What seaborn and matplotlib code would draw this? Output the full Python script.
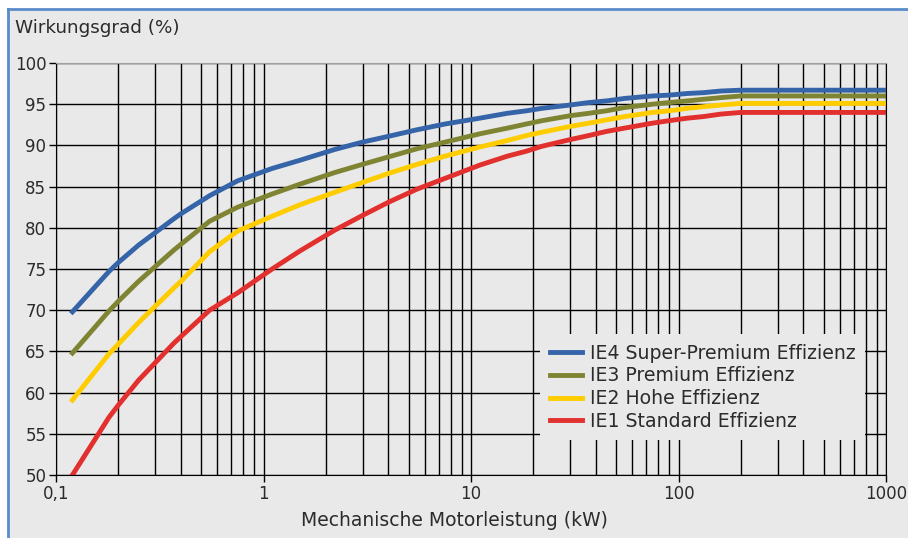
import numpy as np
import pandas as pd
import seaborn as sns
import matplotlib.pyplot as plt
from matplotlib.patches import Rectangle
from matplotlib.lines import Line2D
from matplotlib.ticker import FixedLocator, LogLocator, NullFormatter

# rated power (kW), 4-pole motors
power = [0.12, 0.18, 0.2, 0.25, 0.37, 0.4, 0.55, 0.75, 1.1, 1.5, 2.2, 3, 4, 5.5,
         7.5, 11, 15, 18.5, 22, 30, 37, 45, 55, 75, 90, 110, 132, 160, 200, 1000]

ie4 = [69.8, 74.7, 75.8, 77.9, 81.1, 81.7, 83.9, 85.7, 87.2, 88.2, 89.5, 90.4, 91.1, 91.9,
       92.6, 93.3, 93.9, 94.2, 94.5, 94.9, 95.2, 95.4, 95.7, 96.0, 96.1, 96.3, 96.4, 96.6, 96.7, 96.7]
ie3 = [64.8, 69.9, 71.1, 73.5, 77.3, 78.0, 80.8, 82.5, 84.1, 85.3, 86.7, 87.7, 88.6, 89.6,
       90.4, 91.4, 92.1, 92.6, 93.0, 93.6, 93.9, 94.2, 94.6, 95.0, 95.2, 95.4, 95.6, 95.8, 96.0, 96.0]
ie2 = [59.1, 64.7, 65.9, 68.5, 72.7, 73.5, 77.1, 79.6, 81.4, 82.8, 84.3, 85.5, 86.6, 87.7,
       88.7, 89.8, 90.6, 91.2, 91.6, 92.3, 92.7, 93.1, 93.5, 94.0, 94.2, 94.5, 94.7, 94.9, 95.1, 95.1]
ie1 = [50.0, 57.0, 58.5, 61.5, 66.0, 66.8, 70.0, 72.1, 75.0, 77.2, 79.7, 81.5, 83.1, 84.7,
       86.0, 87.6, 88.7, 89.3, 89.9, 90.7, 91.2, 91.7, 92.1, 92.7, 93.0, 93.3, 93.5, 93.8, 94.0, 94.0]

classes = ['IE4 Super-Premium Effizienz', 'IE3 Premium Effizienz',
           'IE2 Hohe Effizienz', 'IE1 Standard Effizienz']
colors = ['#3565a8', '#7f8432', '#ffcc00', '#e1302e']

x_ticks = [0.1, 1, 10, 100, 1000]
x_labels = ['0,1', '1', '10', '100', '1000']
y_ticks = [50, 55, 60, 65, 70, 75, 80, 85, 90, 95, 100]

df = pd.concat([pd.DataFrame({'kW': power, 'eta': vals, 'Klasse': name})
                for name, vals in zip(classes, [ie4, ie3, ie2, ie1])])

bg = '#e9e9e9'
txt = '#2b2b2b'
plt.rcParams['font.family'] = ['DejaVu Sans']

fig = plt.figure(figsize=(9.08, 5.38), dpi=100)
fig.patch.set_facecolor('white')
x0, y1 = 8 / 908, 1 - 9 / 538
fig.patches.append(Rectangle((x0, 0), 1 - x0, y1, transform=fig.transFigure,
                             facecolor=bg, edgecolor='none', zorder=-5))
fig.add_artist(Line2D([x0, x0], [0, y1], transform=fig.transFigure, color='#5a8bcb', lw=2))
fig.add_artist(Line2D([x0, 1], [y1, y1], transform=fig.transFigure, color='#5a8bcb', lw=2))

ax = fig.add_axes([56 / 908, 1 - 475 / 538, 830 / 908, 412 / 538])
ax.set_facecolor(bg)

sns.lineplot(data=df, x='kW', y='eta', hue='Klasse', hue_order=classes,
             palette=colors, linewidth=3.5, sort=False, ax=ax)

ax.set_xscale('log')
ax.set_xlim(0.1, 1000)
ax.set_ylim(50, 100)
ax.xaxis.set_major_locator(FixedLocator(x_ticks))
ax.set_xticklabels(x_labels)
ax.xaxis.set_minor_locator(LogLocator(base=10, subs=np.arange(2, 10)))
ax.xaxis.set_minor_formatter(NullFormatter())
ax.set_yticks(y_ticks)
ax.grid(True, which='both', color='black', linewidth=1.0)
ax.set_axisbelow(True)
ax.tick_params(axis='both', which='major', labelsize=12, labelcolor=txt,
               length=5, width=1, color='black', pad=2)
ax.tick_params(axis='x', which='minor', length=0)
for side in ['left', 'bottom', 'right']:
    ax.spines[side].set_color('black')
ax.spines['top'].set_color('#a0a0a0')
ax.set_xlabel('')
ax.set_ylabel('')

leg = ax.legend(loc='center left', bbox_to_anchor=(0.572, 0.213), fontsize=13.6,
                frameon=True, facecolor=bg, edgecolor='none', framealpha=1,
                handlelength=1.7, labelspacing=0.2, handletextpad=0.45,
                borderpad=0.5, fancybox=False)
for t in leg.get_texts():
    t.set_color(txt)

fig.text(15 / 908, 1 - 28 / 538, 'Wirkungsgrad (%)', fontsize=13.2, color=txt, va='center')
fig.text(454 / 908, 1 - 521 / 538, 'Mechanische Motorleistung (kW)', fontsize=13.5,
         color=txt, ha='center', va='center')

fig.savefig('out.png', dpi=100)
